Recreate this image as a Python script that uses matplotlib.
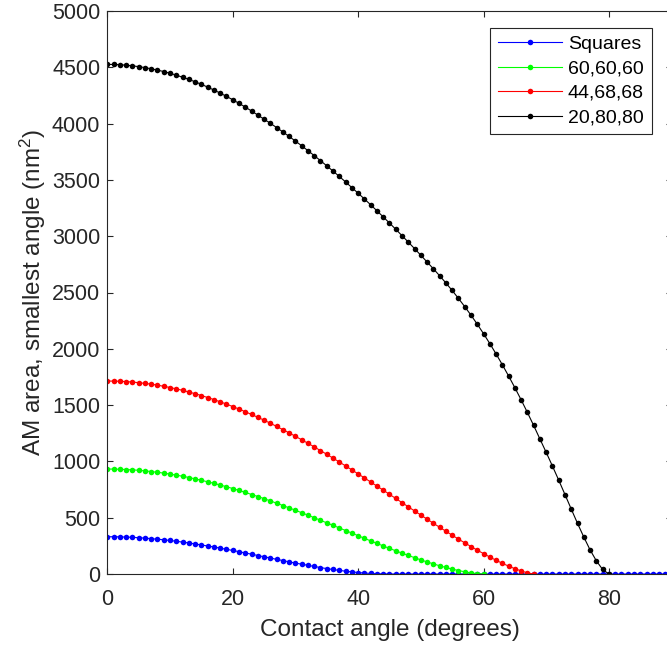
import matplotlib
matplotlib.use("Agg")
import matplotlib.pyplot as plt

plt.rcParams['font.family'] = ['Liberation Sans', 'DejaVu Sans']
plt.rcParams['mathtext.default'] = 'regular'

# contact angle in degrees, one sample per degree
angle_squares = list(range(0, 91))
angle_60 = list(range(0, 61))
angle_44 = list(range(0, 69))
angle_20 = list(range(0, 81))

# AM area (nm^2)
area_squares = [331, 331, 330, 328, 326, 322, 319, 314, 309, 304,
                298, 291, 283, 276, 267, 258, 249, 240, 230, 219,
                209, 198, 187, 176, 164, 153, 142, 130, 119, 108,
                97, 87, 77, 67, 57, 48, 40, 32, 25, 19,
                13, 9, 5, 2, 1, 0] + [0] * 45

area_60 = [932, 932, 930, 928, 925, 921, 916, 910, 903, 896,
           887, 878, 868, 857, 845, 832, 819, 805, 790, 775,
           759, 742, 725, 706, 688, 669, 649, 629, 608, 587,
           566, 544, 522, 500, 477, 454, 432, 409, 386, 363,
           340, 317, 294, 272, 249, 227, 206, 185, 165, 145,
           125, 107, 90, 73, 58, 43, 31, 20, 10, 3, 0]

area_44 = [1714, 1713, 1712, 1709, 1705, 1699, 1693, 1686, 1677, 1667,
           1656, 1644, 1631, 1616, 1601, 1585, 1567, 1549, 1529, 1509,
           1487, 1465, 1441, 1417, 1392, 1366, 1339, 1311, 1282, 1253,
           1223, 1192, 1161, 1129, 1096, 1063, 1029, 995, 960, 925,
           889, 854, 817, 781, 745, 708, 671, 634, 597, 560,
           524, 487, 451, 415, 380, 345, 310, 277, 244, 212,
           181, 151, 122, 95, 70, 47, 27, 10, 0]

area_20 = [4526, 4525, 4523, 4519, 4513, 4506, 4497, 4487, 4475, 4462,
           4447, 4430, 4412, 4393, 4371, 4349, 4324, 4298, 4271, 4242,
           4212, 4180, 4147, 4112, 4076, 4039, 4003, 3965, 3926, 3886,
           3845, 3803, 3760, 3716, 3671, 3625, 3578, 3531, 3482, 3432,
           3382, 3331, 3279, 3226, 3172, 3117, 3062, 3005, 2948, 2890,
           2831, 2771, 2711, 2649, 2585, 2518, 2448, 2375, 2299, 2219,
           2135, 2047, 1955, 1859, 1759, 1655, 1547, 1435, 1319, 1199,
           1080, 958, 833, 705, 576, 449, 328, 214, 117, 40, 0]

series = [
    (angle_squares, area_squares, 'Squares', (0, 0, 1)),
    (angle_60, area_60, '60,60,60', (0, 1, 0)),
    (angle_44, area_44, '44,68,68', (1, 0, 0)),
    (angle_20, area_20, '20,80,80', (0, 0, 0)),
]

dark = '#262626'

fig = plt.figure(figsize=(6.67, 6.49), dpi=100)
# right edge of the axes sits just past the figure border, like the crop
ax = fig.add_axes([107.3 / 667, 75 / 649, (671.6 - 107.3) / 667, 563 / 649])

for x, y, name, col in series:
    ax.plot(x, y, '-o', color=col, lw=0.8, ms=4.0, mew=0, label=name)

ax.set_xlim(0, 90)
ax.set_ylim(0, 5000)
ax.set_xticks([0, 20, 40, 60, 80])
ax.set_yticks(range(0, 5001, 500))

for s in ax.spines.values():
    s.set_color(dark)
    s.set_linewidth(0.8)
ax.tick_params(direction='in', length=4, width=0.8, colors=dark,
               labelsize=15.5, top=True, right=True)
ax.tick_params(axis='y', pad=5)
ax.tick_params(axis='x', pad=11)

ax.set_xlabel('Contact angle (degrees)', fontsize=17.5, color=dark, labelpad=6)
ax.set_ylabel('AM area, smallest angle (nm$^2$)', fontsize=17.5, color=dark,
              labelpad=3)

leg = ax.legend(loc='upper right', bbox_to_anchor=(651.7 / 667, 1 - 27.7 / 649),
                bbox_transform=fig.transFigure, borderaxespad=0,
                fancybox=False, fontsize=14, handlelength=3.3,
                handletextpad=0.3, labelspacing=0.35, borderpad=0.4,
                framealpha=1)
leg.get_frame().set_edgecolor(dark)
leg.get_frame().set_linewidth(0.8)
for t in leg.get_texts():
    t.set_color('black')

fig.savefig('out.png', dpi=100)
